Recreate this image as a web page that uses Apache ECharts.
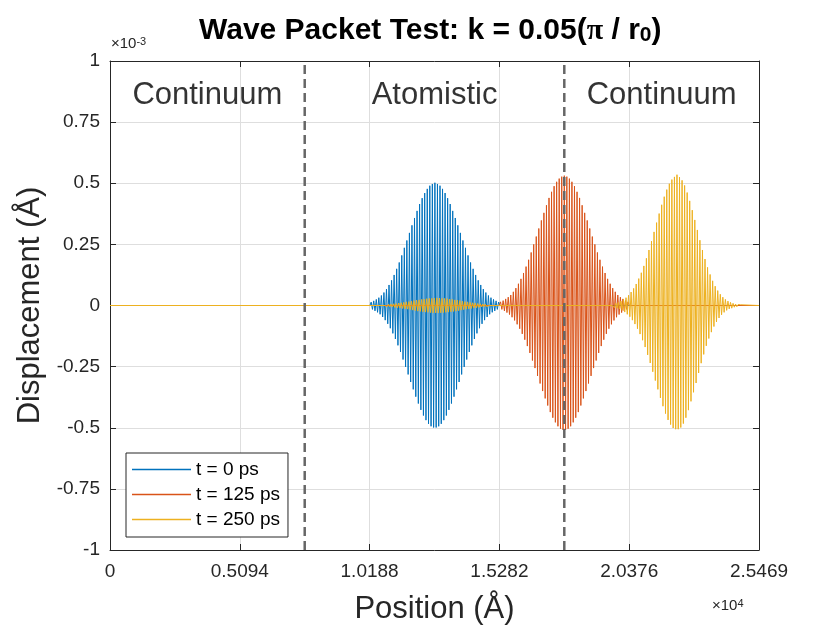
<!DOCTYPE html>
<html>
<head>
  <meta charset="utf-8">
  <title>Wave Packet Test</title>
  <style>
    html, body { margin: 0; padding: 0; background: #fff; }
    #main { width: 840px; height: 630px; }
  </style>
</head>
<body>
  <div id="main"></div>
</body>
<script src="https://cdn.jsdelivr.net/npm/echarts@6/dist/echarts.min.js"></script>
<script>
// axis ranges and tick labels (x in Angstrom, y in 1e-3 Angstrom)
const xMin = 0, xMax = 25469;
const xTickStep = 5093.8;
const xTickLabels = ['0', '0.5094', '1.0188', '1.5282', '2.0376', '2.5469'];
const yMin = -1, yMax = 1, yTickStep = 0.25;

// spacing of the displacement samples below
const xStep = 50;

// t = 0 ps packet
const blueStart = 10250;
const blueVals = [0.014, -0.016, 0.019, -0.022, 0.025, -0.028, 0.032, -0.036, 0.041, -0.047, 0.053, -0.060, 0.067, -0.075, 0.084, -0.093, 0.103, -0.114, 0.125, -0.137, 0.150, -0.163, 0.176, -0.190, 0.205, -0.221, 0.236, -0.251, 0.266, -0.282, 0.297, -0.313, 0.328, -0.343, 0.358, -0.373, 0.387, -0.401, 0.415, -0.427, 0.439, -0.450, 0.460, -0.469, 0.477, -0.484, 0.490, -0.494, 0.497, -0.499,
    0.502,
    -0.499, 0.497, -0.494, 0.490, -0.484, 0.477, -0.469, 0.460, -0.450, 0.439, -0.427, 0.415, -0.401, 0.387, -0.373, 0.358, -0.343, 0.328, -0.313, 0.297, -0.282, 0.266, -0.251, 0.236, -0.221, 0.205, -0.190, 0.176, -0.163, 0.150, -0.137, 0.125, -0.114, 0.103, -0.093, 0.084, -0.075, 0.067, -0.060, 0.053, -0.047, 0.041, -0.036, 0.032, -0.028, 0.025, -0.022, 0.019, -0.016, 0.014];

// t = 125 ps packet
const orangeStart = 15328;
const orangeVals = [0.015, -0.016, 0.020, -0.022, 0.027, -0.029, 0.034, -0.037, 0.043, -0.048, 0.056, -0.061, 0.071, -0.077, 0.089, -0.095, 0.109, -0.116, 0.133, -0.140, 0.159, -0.166, 0.187, -0.194, 0.217, -0.225, 0.250, -0.256, 0.282, -0.288, 0.315, -0.319, 0.348, -0.350, 0.379, -0.380, 0.410, -0.409, 0.440, -0.436, 0.465, -0.459, 0.488, -0.478, 0.506, -0.494, 0.519, -0.504, 0.527, -0.509,
    0.531,
    -0.509, 0.527, -0.504, 0.519, -0.494, 0.506, -0.478, 0.488, -0.459, 0.465, -0.436, 0.440, -0.409, 0.410, -0.380, 0.379, -0.350, 0.348, -0.319, 0.315, -0.288, 0.282, -0.256, 0.250, -0.225, 0.217, -0.194, 0.187, -0.166, 0.159, -0.140, 0.133, -0.116, 0.109, -0.095, 0.089, -0.077, 0.071, -0.061, 0.056, -0.048, 0.043, -0.037, 0.034, -0.029, 0.027, -0.022, 0.020, -0.016, 0.015];

// t = 250 ps: small part left behind in the atomistic region
const yellowEchoStart = 10830;
const yellowEchoVals = [0.004, -0.004, 0.005, -0.005, 0.006, -0.006, 0.007, -0.008, 0.008, -0.009, 0.010, -0.010, 0.011, -0.012, 0.013, -0.014, 0.015, -0.015, 0.016, -0.017, 0.018, -0.019, 0.020, -0.021, 0.022, -0.023, 0.023, -0.024, 0.025, -0.026, 0.026, -0.027, 0.028, -0.028, 0.029, -0.029, 0.029, -0.030, 0.030, -0.030,
    0.031,
    -0.030, 0.030, -0.030, 0.029, -0.029, 0.029, -0.028, 0.028, -0.027, 0.026, -0.026, 0.025, -0.024, 0.023, -0.023, 0.022, -0.021, 0.020, -0.019, 0.018, -0.017, 0.016, -0.015, 0.015, -0.014, 0.013, -0.012, 0.011, -0.010, 0.010, -0.009, 0.008, -0.008, 0.007, -0.006, 0.006, -0.005, 0.005, -0.004, 0.004];

// t = 250 ps: main packet
const yellowStart = 19750;
const yellowVals = [0.007, -0.008, 0.009, -0.011, 0.013, -0.014, 0.018, -0.020, 0.024, -0.027, 0.032, -0.036, 0.042, -0.046, 0.055, -0.060, 0.070, -0.076, 0.088, -0.095, 0.110, -0.117, 0.134, -0.142, 0.162, -0.170, 0.193, -0.202, 0.227, -0.235, 0.263, -0.271, 0.301, -0.307, 0.339, -0.343, 0.376, -0.378, 0.412, -0.412, 0.445, -0.442, 0.474, -0.468, 0.498, -0.487, 0.515, -0.501, 0.526, -0.506,
    0.535,
    -0.506, 0.525, -0.499, 0.512, -0.483, 0.491, -0.459, 0.462, -0.428, 0.428, -0.392, 0.390, -0.355, 0.350, -0.317, 0.309, -0.276, 0.267, -0.236, 0.227, -0.200, 0.190, -0.165, 0.156, -0.135, 0.127, -0.109, 0.101, -0.086, 0.079, -0.067, 0.061, -0.051, 0.046, -0.038, 0.034, -0.028, 0.025, -0.020, 0.018, -0.014, 0.013, -0.011, 0.009, -0.007, 0.006, -0.005, 0.004, -0.003, 0.003];

const legendNames = ['t = 0 ps', 't = 125 ps', 't = 250 ps'];
const colors = ['#0072BD', '#D95319', '#EDB120'];

// atomistic / continuum boundaries and region labels
const boundaryX = [7641, 17828];
const regionX = [3820, 12735, 21649];
const regionY = 0.86;
const regionNames = ['Continuum', 'Atomistic', 'Continuum'];

// a packet sits on a flat zero line: zero just before and just after it
function toPoints(start, vals) {
    const pts = vals.map((v, i) => [start + i * xStep, v]);
    return [[start - xStep, 0]].concat(pts, [[start + vals.length * xStep, 0]]);
}
const blueData = [[xMin, 0]].concat(toPoints(blueStart, blueVals), [[xMax, 0]]);
const orangeData = [[xMin, 0]].concat(toPoints(orangeStart, orangeVals), [[xMax, 0]]);
const yellowData = [[xMin, 0]].concat(toPoints(yellowEchoStart, yellowEchoVals), toPoints(yellowStart, yellowVals), [[xMax, 0]]);

const font = 'Liberation Sans';
const axisColor = '#262626';

let myChart = echarts.init(document.querySelector('#main'));

const lineSeries = [blueData, orangeData, yellowData].map((d, i) => ({
    name: legendNames[i],
    type: 'line',
    data: d,
    showSymbol: false,
    symbol: 'none',
    lineStyle: { color: colors[i], width: 1 },
    itemStyle: { color: colors[i] },
    silent: true,
    z: 2
}));

const dashSeries = boundaryX.map(x => ({
    type: 'line',
    data: [[x, yMin], [x, yMax]],
    showSymbol: false,
    symbol: 'none',
    lineStyle: { color: '#666666', width: 2.5, type: [9, 5] },
    silent: true,
    z: 3
}));

const textSeries = {
    type: 'scatter',
    data: regionX.map((x, i) => ({ value: [x, regionY], name: regionNames[i] })),
    symbolSize: 1,
    itemStyle: { color: 'rgba(255,255,255,0)' },
    label: {
        show: true,
        position: 'inside',
        formatter: '{b}',
        fontSize: 31,
        color: '#000000',
        fontFamily: font
    },
    silent: true,
    z: 4
};

const plainAxis = {
    axisLine: { show: true, onZero: false, lineStyle: { color: axisColor, width: 1 } },
    axisTick: { show: true, inside: true, length: 6, lineStyle: { color: axisColor } },
    axisLabel: { show: false },
    splitLine: { show: false }
};

let option = {
    animation: false,
    textStyle: { fontFamily: font },
    title: {
        left: 199,
        top: 12,
        padding: 0,
        text: '{b|Wave Packet Test: k = 0.05(}{p|π}{b| / r}{s|0}{b|)}',
        textStyle: {
            rich: {
                b: { fontSize: 30, fontWeight: 'bold', color: '#000', fontFamily: font, lineHeight: 34, verticalAlign: 'bottom' },
                p: { fontSize: 30, color: '#000', fontFamily: 'Liberation Serif', lineHeight: 34, verticalAlign: 'bottom' },
                s: { fontSize: 21, fontWeight: 'bold', color: '#000', fontFamily: font, lineHeight: 14, verticalAlign: 'bottom' }
            }
        }
    },
    grid: { left: 110, right: 81, top: 61, bottom: 78 },
    legend: {
        data: legendNames,
        orient: 'vertical',
        left: 126,
        top: 453,
        icon: 'rect',
        itemWidth: 59,
        itemHeight: 1.5,
        itemGap: 6,
        padding: [7, 8, 8, 6],
        borderColor: axisColor,
        borderWidth: 1,
        backgroundColor: '#fff',
        selectedMode: false,
        textStyle: { fontSize: 19, color: '#000', fontFamily: font }
    },
    xAxis: [{
        type: 'value',
        min: xMin,
        max: xMax,
        interval: xTickStep,
        name: 'Position (Å)',
        nameLocation: 'middle',
        nameGap: 44,
        nameTextStyle: { fontSize: 31, color: axisColor, fontFamily: font },
        axisLine: { show: true, onZero: false, lineStyle: { color: axisColor, width: 1 } },
        axisTick: { show: true, inside: true, length: 6, lineStyle: { color: axisColor } },
        axisLabel: {
            fontSize: 19,
            color: axisColor,
            margin: 12,
            showMaxLabel: true,
            showMinLabel: true,
            formatter: v => xTickLabels[Math.round(v / xTickStep)]
        },
        splitLine: { show: true, lineStyle: { color: '#dedede', width: 1 } }
    }, Object.assign({
        type: 'value',
        position: 'top',
        min: xMin,
        max: xMax,
        interval: xTickStep
    }, plainAxis)],
    yAxis: [{
        type: 'value',
        min: yMin,
        max: yMax,
        interval: yTickStep,
        name: 'Displacement (Å)',
        nameLocation: 'middle',
        nameGap: 52,
        nameTextStyle: { fontSize: 31, color: axisColor, fontFamily: font },
        axisLine: { show: true, onZero: false, lineStyle: { color: axisColor, width: 1 } },
        axisTick: { show: true, inside: true, length: 6, lineStyle: { color: axisColor } },
        axisLabel: { fontSize: 19, color: axisColor, margin: 10 },
        splitLine: { show: true, lineStyle: { color: '#dedede', width: 1 } }
    }, Object.assign({
        type: 'value',
        position: 'right',
        min: yMin,
        max: yMax,
        interval: yTickStep
    }, plainAxis)],
    graphic: [{
        type: 'text',
        left: 111,
        top: 36,
        style: {
            text: '{a|×10}{b|-3}',
            rich: {
                a: { fontSize: 15, fill: axisColor, fontFamily: font, lineHeight: 26, verticalAlign: 'top' },
                b: { fontSize: 11, fill: axisColor, fontFamily: font, lineHeight: 14, verticalAlign: 'top' }
            }
        }
    }, {
        type: 'text',
        left: 712,
        top: 598,
        style: {
            text: '{a|×10}{b|4}',
            rich: {
                a: { fontSize: 15, fill: axisColor, fontFamily: font, lineHeight: 26, verticalAlign: 'top' },
                b: { fontSize: 11, fill: axisColor, fontFamily: font, lineHeight: 14, verticalAlign: 'top' }
            }
        }
    }],
    series: lineSeries.concat(dashSeries, [textSeries])
};
myChart.setOption(option);
</script>
</html>
